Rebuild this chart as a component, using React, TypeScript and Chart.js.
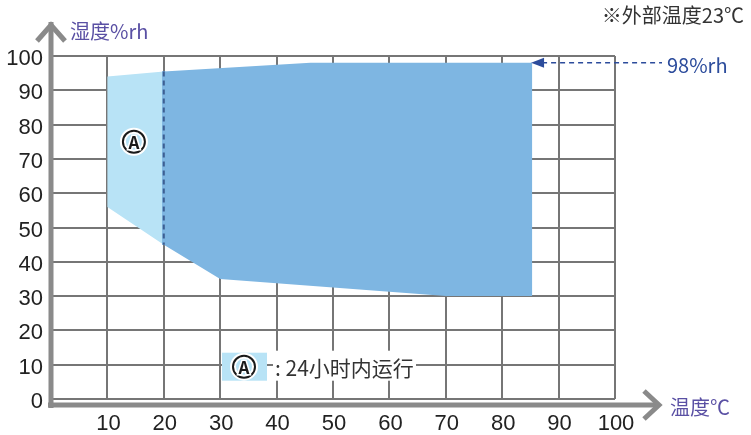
import React, { useEffect, useRef } from 'react';
import { Chart, registerables } from 'chart.js';

Chart.register(...registerables);

// ---- data ----
const X_MIN = 0;
const X_MAX = 100;
const Y_MIN = 0;
const Y_MAX = 100;
const TICK_STEP = 10;

// Zone A (24h operation) polygon, light blue
const ZONE_A_X = [10, 20, 20, 10];
const ZONE_A_Y = [94, 95.5, 45, 56];

// Continuous operation zone polygon, dark blue
const ZONE_MAIN_X = [20, 46, 85.3, 85.3, 70, 30, 20];
const ZONE_MAIN_Y = [95.5, 98, 98, 30, 30, 35, 45];

// Divider between zones
const DIVIDER_X = [20, 20];
const DIVIDER_Y = [95.5, 45];

const LIMIT_RH = 98;
const MARK_A_POS = [14.7, 75];

const Y_TITLE = '湿度%rh';
const X_TITLE = '温度℃';
const NOTE = '※外部温度23℃';
const LIMIT_LABEL = '98%rh';
const LEGEND_TEXT = ': 24小时内运行';

const LIGHT = '#b8e3f6';
const DARK = '#7eb6e2';
const GRID = '#767676';
const AXIS = '#8a8a8a';
const TITLE_COLOR = '#5a50a4';
const LIMIT_COLOR = '#2c4c9c';
const CJK = '"Noto Sans CJK SC", "Noto Sans", sans-serif';

const toPts = (xs: number[], ys: number[]) => xs.map((x, i) => ({ x, y: ys[i] }));

function drawMarkA(ctx: CanvasRenderingContext2D, cx: number, cy: number) {
  ctx.save();
  ctx.beginPath();
  ctx.arc(cx, cy, 11, 0, Math.PI * 2);
  ctx.strokeStyle = '#ffffff';
  ctx.lineWidth = 6;
  ctx.stroke();
  ctx.beginPath();
  ctx.arc(cx, cy, 11, 0, Math.PI * 2);
  ctx.strokeStyle = '#1a1a1a';
  ctx.lineWidth = 2;
  ctx.stroke();
  ctx.font = `bold 17px ${CJK}`;
  ctx.textAlign = 'center';
  ctx.textBaseline = 'middle';
  ctx.lineWidth = 3;
  ctx.strokeStyle = '#ffffff';
  ctx.strokeText('A', cx, cy + 1);
  ctx.fillStyle = '#1a1a1a';
  ctx.fillText('A', cx, cy + 1);
  ctx.restore();
}

const decorPlugin = {
  id: 'decor',
  afterDraw(chart: any) {
    const { ctx, chartArea } = chart;
    const { left, right, top, bottom } = chartArea;
    const xs = chart.scales.x;
    const ys = chart.scales.y;

    // redraw divider datasets above the grid (bottom-most first)
    const dsets = chart.data.datasets;
    for (let i = dsets.length - 1; i >= 0; i--) {
      if ((dsets[i] as any).overGrid) {
        chart.getDatasetMeta(i).controller.draw();
      }
    }

    ctx.save();
    // thick axes with open arrows
    ctx.strokeStyle = AXIS;
    ctx.lineWidth = 5;
    ctx.lineCap = 'butt';
    ctx.lineJoin = 'miter';
    // y axis
    ctx.beginPath();
    ctx.moveTo(left, bottom + 9);
    ctx.lineTo(left, top - 34);
    ctx.stroke();
    ctx.beginPath();
    ctx.moveTo(left - 14, top - 15);
    ctx.lineTo(left, top - 31);
    ctx.lineTo(left + 14, top - 15);
    ctx.stroke();
    // x axis
    const ay = bottom + 6;
    ctx.beginPath();
    ctx.moveTo(left - 3, ay);
    ctx.lineTo(right + 44, ay);
    ctx.stroke();
    ctx.beginPath();
    ctx.moveTo(right + 29, ay - 14);
    ctx.lineTo(right + 44, ay);
    ctx.lineTo(right + 29, ay + 14);
    ctx.stroke();

    // titles
    ctx.font = `20px ${CJK}`;
    ctx.fillStyle = TITLE_COLOR;
    ctx.textBaseline = 'middle';
    ctx.textAlign = 'left';
    ctx.fillText(Y_TITLE, left + 19, top - 25);
    ctx.fillText(X_TITLE, right + 55, ay + 2);

    ctx.font = `20px ${CJK}`;
    ctx.fillStyle = '#333333';
    ctx.textAlign = 'right';
    ctx.fillText(NOTE, 744, 15);

    // limit arrow at 98%rh
    const ly = ys.getPixelForValue(LIMIT_RH);
    const lx = xs.getPixelForValue(ZONE_MAIN_X[2]);
    ctx.strokeStyle = LIMIT_COLOR;
    ctx.fillStyle = LIMIT_COLOR;
    ctx.lineWidth = 1.5;
    ctx.setLineDash([5, 4]);
    ctx.beginPath();
    ctx.moveTo(lx + 10, ly);
    ctx.lineTo(right + 47, ly);
    ctx.stroke();
    ctx.setLineDash([]);
    ctx.beginPath();
    ctx.moveTo(lx - 1, ly);
    ctx.lineTo(lx + 12, ly - 5);
    ctx.lineTo(lx + 12, ly + 5);
    ctx.closePath();
    ctx.fill();
    ctx.font = `20px ${CJK}`;
    ctx.textAlign = 'left';
    ctx.fillText(LIMIT_LABEL, right + 52, ly + 3);

    // mark A in the zone
    drawMarkA(ctx, xs.getPixelForValue(MARK_A_POS[0]), ys.getPixelForValue(MARK_A_POS[1]));

    // legend
    const legY = ys.getPixelForValue(10);
    ctx.fillStyle = LIGHT;
    ctx.fillRect(222, legY - 12, 45, 28);
    drawMarkA(ctx, 244, legY + 2);
    ctx.fillStyle = '#ffffff';
    ctx.fillRect(273, legY - 14, 143, 30);
    ctx.font = `21px ${CJK}`;
    ctx.fillStyle = '#333333';
    ctx.textAlign = 'left';
    ctx.textBaseline = 'middle';
    ctx.fillText(LEGEND_TEXT, 275, legY + 3);
    ctx.restore();
  },
};

export default function App() {
  const ref = useRef<HTMLCanvasElement>(null);
  useEffect(() => {
    if (!ref.current) return;
    const chart = new Chart(ref.current, {
      type: 'scatter',
      data: {
        datasets: [
          {
            data: toPts(DIVIDER_X, DIVIDER_Y),
            showLine: true,
            borderColor: '#3d5f93',
            borderWidth: 2,
            borderDash: [5, 4],
            pointRadius: 0,
            fill: false,
            overGrid: true,
          } as any,
          {
            data: toPts(DIVIDER_X, DIVIDER_Y),
            showLine: true,
            borderColor: DARK,
            borderWidth: 3,
            pointRadius: 0,
            fill: false,
            overGrid: true,
          } as any,
          {
            data: toPts(ZONE_MAIN_X, ZONE_MAIN_Y),
            showLine: true,
            borderWidth: 0,
            borderColor: DARK,
            backgroundColor: DARK,
            pointRadius: 0,
            fill: 'shape',
          },
          {
            data: toPts(ZONE_A_X, ZONE_A_Y),
            showLine: true,
            borderWidth: 0,
            borderColor: LIGHT,
            backgroundColor: LIGHT,
            pointRadius: 0,
            fill: 'shape',
          },
        ],
      },
      options: {
        animation: false,
        responsive: false,
        events: [],
        layout: { padding: { left: 0, top: 56, right: 136, bottom: 0 } },
        plugins: { legend: { display: false }, tooltip: { enabled: false } },
        scales: {
          x: {
            type: 'linear',
            min: X_MIN,
            max: X_MAX,
            z: 1,
            border: { display: false },
            grid: { color: GRID, lineWidth: 2, drawTicks: false },
            ticks: {
              stepSize: TICK_STEP,
              maxRotation: 0,
              padding: 12,
              labelOffset: 1,
              color: '#222222',
              font: { family: '"Liberation Sans", Arial, sans-serif', size: 22 },
              callback: (v: any) => (v === 0 ? '' : String(v)),
            },
            afterFit: (s: any) => {
              s.height = 36;
            },
          },
          y: {
            min: Y_MIN,
            max: Y_MAX,
            z: 1,
            border: { display: false },
            grid: { color: GRID, lineWidth: 2, drawTicks: false },
            ticks: {
              stepSize: TICK_STEP,
              padding: 8,
              labelOffset: 3,
              color: '#222222',
              font: { family: '"Liberation Sans", Arial, sans-serif', size: 22 },
            },
            afterFit: (s: any) => {
              s.width = 51;
            },
          },
        },
      } as any,
      plugins: [decorPlugin],
    });
    return () => chart.destroy();
  }, []);
  return (
    <div style={{ position: 'absolute', left: 0, top: 0, width: 751, height: 435, background: '#fff' }}>
      <canvas ref={ref} width={751} height={435} />
    </div>
  );
}
